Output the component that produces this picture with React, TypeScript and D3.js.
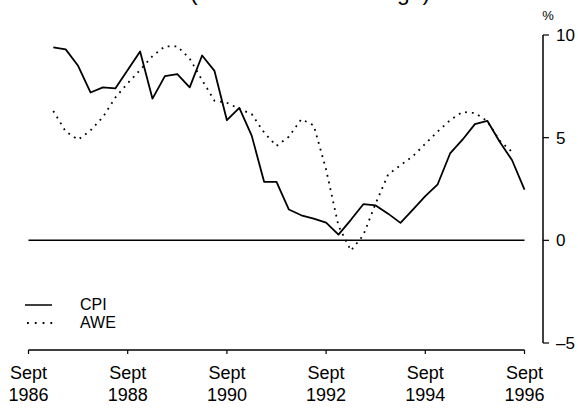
import React from "react";
import * as d3 from "d3";

const quarters = [
  "1987-03","1987-06","1987-09","1987-12",
  "1988-03","1988-06","1988-09","1988-12",
  "1989-03","1989-06","1989-09","1989-12",
  "1990-03","1990-06","1990-09","1990-12",
  "1991-03","1991-06","1991-09","1991-12",
  "1992-03","1992-06","1992-09","1992-12",
  "1993-03","1993-06","1993-09","1993-12",
  "1994-03","1994-06","1994-09","1994-12",
  "1995-03","1995-06","1995-09","1995-12",
  "1996-03","1996-06","1996-09",
];

const cpi = [
  9.4, 9.3, 8.5, 7.2,
  7.45, 7.4, 8.3, 9.2,
  6.9, 8.0, 8.1, 7.45,
  9.0, 8.25, 5.85, 6.45,
  5.1, 2.85, 2.85, 1.5,
  1.22, 1.06, 0.86, 0.28,
  1.0, 1.76, 1.7, 1.3,
  0.85, 1.5, 2.15, 2.73,
  4.23, 4.9, 5.66, 5.82,
  4.8, 3.9, 2.47,
];

const awe = [
  6.3, 5.3, 4.9, 5.35,
  6.0, 6.95, 7.65, 8.3,
  8.97, 9.45, 9.45, 8.85,
  7.8, 6.8, 6.7, 6.4,
  6.15, 5.25, 4.6, 5.05,
  5.9, 5.6, 3.45, 0.7,
  -0.5, 0.25, 1.8, 3.2,
  3.66, 4.1, 4.7, 5.3,
  5.85, 6.25, 6.2, 5.8,
  4.85, 4.3,
];

const xTickYears = [1986, 1988, 1990, 1992, 1994, 1996];
const xTickMonth = "Sept";
const yTicks = [10, 5, 0, -5];
const seriesNames = ["CPI", "AWE"];
const titleText = "(Year-ended % change)";
const unitLabel = "%";

const toYear = (s: string) => {
  const [yy, mm] = s.split("-").map(Number);
  return yy + mm / 12;
};

export default function App() {
  const W = 578, H = 408;
  const x = d3.scaleLinear().domain([1986.75, 1996.75]).range([28.5, 524.5]);
  const y = d3.scaleLinear().domain([-5, 10]).range([343, 35]);
  const font = "'Liberation Sans', Arial, Helvetica, sans-serif";

  const line = d3
    .line<[number, number]>()
    .x((d) => x(d[0]))
    .y((d) => y(d[1]));

  const cpiPts: [number, number][] = cpi.map((v, i) => [toYear(quarters[i]), v]);
  const awePts: [number, number][] = awe.map((v, i) => [toYear(quarters[i]), v]);

  const axisX = 543;
  const xAxisY = 350;

  return (
    <svg
      width={W}
      height={H}
      viewBox={`0 0 ${W} ${H}`}
      style={{ position: "absolute", left: 0, top: 0, background: "#fff" }}
    >
      <rect x={0} y={0} width={W} height={H} fill="#fff" />
      {/* clipped title */}
      <text
        x={190}
        y={0}
        fontFamily={font}
        fontSize={22}
        textLength={240}
        lengthAdjust="spacingAndGlyphs"
        fill="#000"
      >
        {titleText}
      </text>

      {/* zero line */}
      <line x1={x(1986.75)} x2={x(1996.75)} y1={y(0)} y2={y(0)} stroke="#000" strokeWidth={1.5} />

      {/* series */}
      <path d={line(awePts) || ""} fill="none" stroke="#000" strokeWidth={1.8} strokeDasharray="1.8 5" />
      <path d={line(cpiPts) || ""} fill="none" stroke="#000" strokeWidth={1.8} strokeLinejoin="round" />

      {/* right axis */}
      <line x1={axisX} x2={axisX} y1={y(10)} y2={y(-5)} stroke="#000" strokeWidth={1.5} />
      {yTicks.map((t) => (
        <g key={t}>
          <line x1={axisX} x2={axisX + 6} y1={y(t)} y2={y(t)} stroke="#000" strokeWidth={1.2} />
          <text
            x={556}
            y={y(t)}
            dy="0.36em"
            fontFamily={font}
            fontSize={17}
            fill="#000"
          >
            {t < 0 ? `–${Math.abs(t)}` : t}
          </text>
        </g>
      ))}
      <text x={548} y={20} textAnchor="middle" fontFamily={font} fontSize={13} fill="#000">
        {unitLabel}
      </text>

      {/* x axis */}
      <line x1={x(1986.75)} x2={x(1996.75)} y1={xAxisY} y2={xAxisY} stroke="#000" strokeWidth={1.5} />
      {xTickYears.map((yr) => (
        <g key={yr}>
          <line x1={x(yr + 0.75)} x2={x(yr + 0.75)} y1={xAxisY} y2={xAxisY + 4} stroke="#000" strokeWidth={1.2} />
          <text x={x(yr + 0.75)} y={379} textAnchor="middle" fontFamily={font} fontSize={18} fill="#000">
            {xTickMonth}
          </text>
          <text x={x(yr + 0.75)} y={401} textAnchor="middle" fontFamily={font} fontSize={18} fill="#000">
            {yr}
          </text>
        </g>
      ))}

      {/* legend */}
      <line x1={25} x2={52} y1={305} y2={305} stroke="#000" strokeWidth={1.5} />
      <text x={80} y={310} fontFamily={font} fontSize={16} fill="#000">
        {seriesNames[0]}
      </text>
      <line x1={27} x2={54} y1={323} y2={323} stroke="#000" strokeWidth={1.8} strokeDasharray="1.8 6" />
      <text x={80} y={328} fontFamily={font} fontSize={16} fill="#000">
        {seriesNames[1]}
      </text>
    </svg>
  );
}
